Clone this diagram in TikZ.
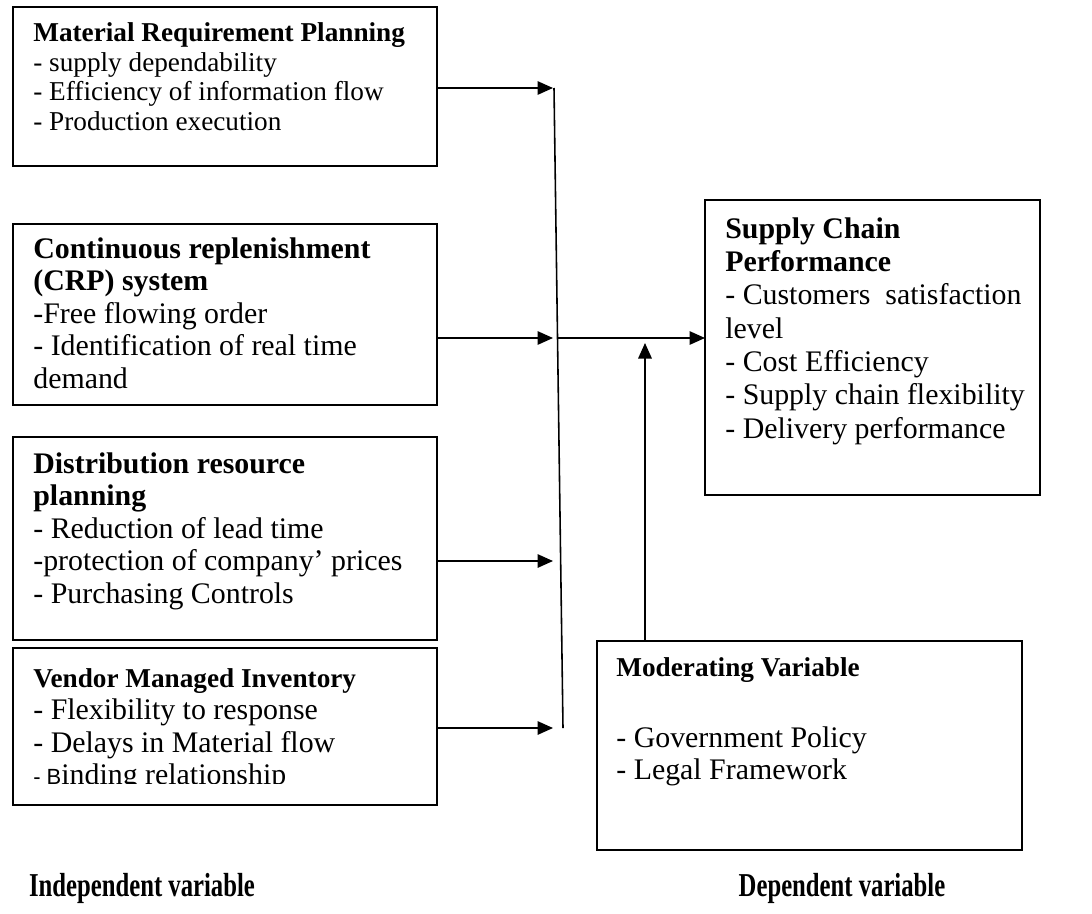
\documentclass[tikz,border=0pt]{standalone}
\usepackage{fontspec}
\setmainfont{Liberation Serif}
\newfontfamily\arialfont{Liberation Sans}
\usepackage{graphicx}
\usepackage{tikz}
\usetikzlibrary{arrows.meta}

\newcommand{\smallhead}[1]{{\fontsize{15.5pt}{18.5pt}\selectfont\bfseries #1}}

\begin{document}
\begin{tikzpicture}[x=0.02cm, y=-0.02cm,
        varbox/.style={draw, line width=1pt, inner sep=0pt, outer sep=0pt, anchor=north west},
        vartext/.style={anchor=north west, inner sep=0pt, align=left,
            font=\fontsize{17pt}{18.5pt}\selectfont},
        smalltext/.style={font=\fontsize{15.5pt}{17pt}\selectfont},
        link/.style={line width=0.9pt},
        arr/.style={link, -{Triangle[length=0.31cm, width=0.27cm]}},
        caption/.style={font=\fontsize{19pt}{22pt}\selectfont\bfseries}]
    \useasboundingbox (0,0) rectangle (1092,913);

    % independent variables
    \node[varbox, minimum width=8.48cm, minimum height=3.18cm] (mrp) at (13,7) {};
    \node[vartext, smalltext] (mrp-text) at (33,22) {\textbf{Material Requirement Planning}\\
        - supply dependability\\
        - Efficiency of information flow\\
        - Production execution};

    \node[varbox, minimum width=8.48cm, minimum height=3.62cm] (crp) at (13,224) {};
    \node[vartext] (crp-text) at (33,237) {\textbf{Continuous replenishment}\\
        \textbf{(CRP) system}\\
        -Free flowing order\\
        - Identification of real time\\
        demand};

    \node[varbox, minimum width=8.48cm, minimum height=4.06cm] (drp) at (13,437) {};
    \node[vartext] (drp-text) at (33,452) {\textbf{Distribution resource}\\
        \textbf{planning}\\
        - Reduction of lead time\\
        -protection of company’ prices\\
        - Purchasing Controls};

    \node[varbox, minimum width=8.48cm, minimum height=3.14cm] (vmi) at (13,648) {};
    \begin{scope}
        % last line runs past the frame and is cut off
        \clip (vmi.north west) rectangle ([yshift=0.42cm]vmi.south east);
        \node[vartext] (vmi-text) at (33,668) {\smallhead{Vendor Managed Inventory}\\
            - Flexibility to response\\
            - Delays in Material flow\\
            {\arialfont\fontsize{12.5pt}{18.5pt}\selectfont - B}inding relationship};
    \end{scope}

    % dependent and moderating variables
    \node[varbox, minimum width=6.7cm, minimum height=5.9cm] (scp) at (705,200) {};
    \node[vartext, font=\fontsize{17pt}{19pt}\selectfont] (scp-text) at (725,217) {\textbf{Supply Chain}\\
        \textbf{Performance}\\
        - Customers\ \ satisfaction\\
        level\\
        - Cost Efficiency\\
        - Supply chain flexibility\\
        - Delivery performance};

    \node[varbox, minimum width=8.5cm, minimum height=4.18cm] (mod) at (597,641) {};
    \node[vartext] (mod-text) at (616,657) {\smallhead{Moderating Variable}\\[22pt]
        - Government Policy\\
        - Legal Framework};

    % arrow ends on the joining line
    \coordinate (t1) at (553,88);
    \coordinate (t2) at (553,338);
    \coordinate (t3) at (553,561);
    \coordinate (t4) at (553,728);
    \coordinate (ltop) at (554,88);
    \coordinate (lmid) at (557,338);
    \coordinate (lbot) at (563,728);
    \coordinate (mtip) at (645,343);

    \draw[arr] (mrp.east |- t1) -- (t1);
    \draw[arr] (crp.east |- t2) -- (t2);
    \draw[arr] (drp.east |- t3) -- (t3);
    \draw[arr] (vmi.east |- t4) -- (t4);
    \draw[link] (ltop) -- (lbot);
    \draw[arr] (lmid) -- (scp.west |- lmid);
    \draw[arr] (mod.north -| mtip) -- (mtip);

    \node[caption] (indep) at (142,888) {\scalebox{0.74}[1]{Independent variable}};
    \node[caption] (dep) at (842,888) {\scalebox{0.74}[1]{Dependent variable}};
\end{tikzpicture}
\end{document}
